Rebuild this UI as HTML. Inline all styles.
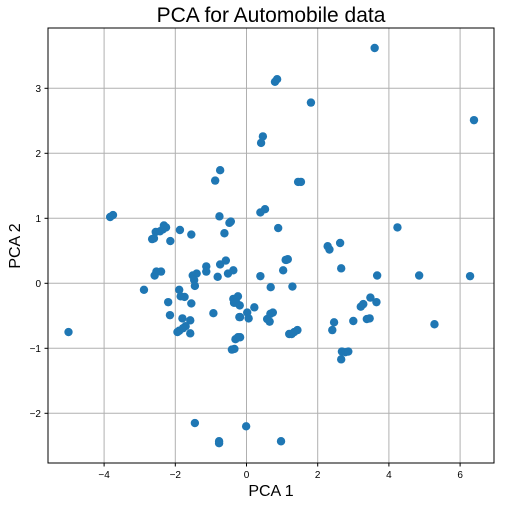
<!DOCTYPE html>
<html><head><meta charset="utf-8"><style>
body{margin:0;background:#fff;}
svg{display:block;font-family:"Liberation Sans","DejaVu Sans",sans-serif;}
</style></head><body>
<svg id="chart" width="505" height="506" viewBox="0 0 505 506">
<rect x="0" y="0" width="505" height="506" fill="#fff"/>
<g id="grid"></g>
<g id="pts"></g>
<rect x="48" y="28" width="446" height="435" fill="none" stroke="#000" stroke-width="1"/>
<g id="ticks"></g>
<text x="271" y="22" text-anchor="middle" font-size="21">PCA for Automobile data</text>
<text x="271" y="496" text-anchor="middle" font-size="16">PCA 1</text>
<text x="20" y="246" text-anchor="middle" font-size="16" transform="rotate(-90 20 246)">PCA 2</text>
</svg>
<script>
const xTicks=[-4,-2,0,2,4,6];
const yTicks=[-2,-1,0,1,2,3];
const pc1=[-5.0,-3.83,-3.75,-2.88,-0.88,-0.74,-0.76,-0.48,-0.44,-0.62,0.39,0.52,0.89,-2.32,-2.26,-2.55,-2.43,-2.35,-2.65,-2.6,-2.14,-1.87,-1.55,-2.58,-2.53,-2.4,-1.89,-1.85,-1.74,-2.2,-1.55,-2.15,-1.8,-1.58,-1.71,-1.78,-1.89,-1.94,-1.58,-1.51,-1.40,-1.47,-1.45,-1.13,-1.13,-0.81,-0.74,-0.58,-0.52,-0.37,0.39,0.68,1.12,1.03,-0.37,-0.24,-0.35,-0.19,-0.28,0.22,-0.93,-0.2,0.02,0.06,0.58,0.67,0.74,0.65,-0.31,-0.24,-0.41,-0.34,1.2,2.28,2.33,2.63,2.66,3.67,4.24,4.85,6.28,1.10,1.16,1.29,-0.18,-0.18,1.27,1.34,1.43,2.46,2.41,3.0,3.21,3.28,3.48,3.65,3.38,3.46,5.28,2.68,2.78,2.86,2.66,3.6,6.39,0.8,0.86,1.81,0.46,0.41,1.45,1.53,-1.45,-0.77,-0.77,-0.01,0.97];
const pc2=[-0.75,1.02,1.05,-0.1,1.58,1.74,1.03,0.93,0.95,0.77,1.09,1.14,0.85,0.89,0.86,0.79,0.80,0.83,0.68,0.69,0.65,0.82,0.75,0.12,0.18,0.18,-0.10,-0.2,-0.21,-0.29,-0.31,-0.49,-0.54,-0.57,-0.66,-0.69,-0.73,-0.75,-0.77,0.12,0.15,0.05,-0.04,0.26,0.18,0.10,0.29,0.35,0.15,0.2,0.11,-0.06,0.36,0.2,-0.24,-0.2,-0.3,-0.34,-0.3,-0.37,-0.46,-0.52,-0.45,-0.54,-0.55,-0.47,-0.45,-0.59,-0.86,-0.83,-1.02,-1.01,-0.78,0.57,0.52,0.62,0.23,0.12,0.86,0.12,0.11,0.36,0.37,-0.05,-0.52,-0.83,-0.78,-0.75,-0.72,-0.6,-0.72,-0.58,-0.36,-0.32,-0.22,-0.29,-0.55,-0.54,-0.63,-1.05,-1.06,-1.05,-1.17,3.62,2.51,3.1,3.14,2.78,2.26,2.16,1.56,1.56,-2.15,-2.43,-2.46,-2.2,-2.43];
const NS='http://www.w3.org/2000/svg';
const xs=v=>246.5+v*35.6, ys=v=>283.3-v*65;
const grid=document.getElementById('grid'),ticks=document.getElementById('ticks'),pts=document.getElementById('pts');
function mk(t,a){const e=document.createElementNS(NS,t);for(const k in a)e.setAttribute(k,a[k]);return e;}
xTicks.forEach(v=>{const x=xs(v);
 const g=mk('line',{x1:x,x2:x,y1:28,y2:463,stroke:'#b0b0b0','stroke-width':1});
 
 
 grid.appendChild(g);
 const t=mk('line',{x1:x,x2:x,y1:463,y2:466.5,stroke:'#000'});
 
 
 ticks.appendChild(t);
 const l=mk('text',{x:x,y:478,'text-anchor':'middle','font-size':10});
 
 
 l.textContent=v<0?'\u2212'+(-v):v;ticks.appendChild(l);});
yTicks.forEach(v=>{const y=ys(v);
 const g=mk('line',{x1:48,x2:494,y1:y,y2:y,stroke:'#b0b0b0','stroke-width':1});
 
 
 grid.appendChild(g);
 const t=mk('line',{x1:44.5,x2:48,y1:y,y2:y,stroke:'#000'});
 
 
 ticks.appendChild(t);
 const l=mk('text',{x:41,y:y+3.5,'text-anchor':'end','font-size':10});
 
 
 l.textContent=v<0?'\u2212'+(-v):v;ticks.appendChild(l);});
pc1.forEach((v,i)=>{const c=mk('circle',{cx:xs(v),cy:ys(pc2[i]),r:4.2,fill:'#1f77b4'});
 
 
 pts.appendChild(c);});
</script>
</body></html>
